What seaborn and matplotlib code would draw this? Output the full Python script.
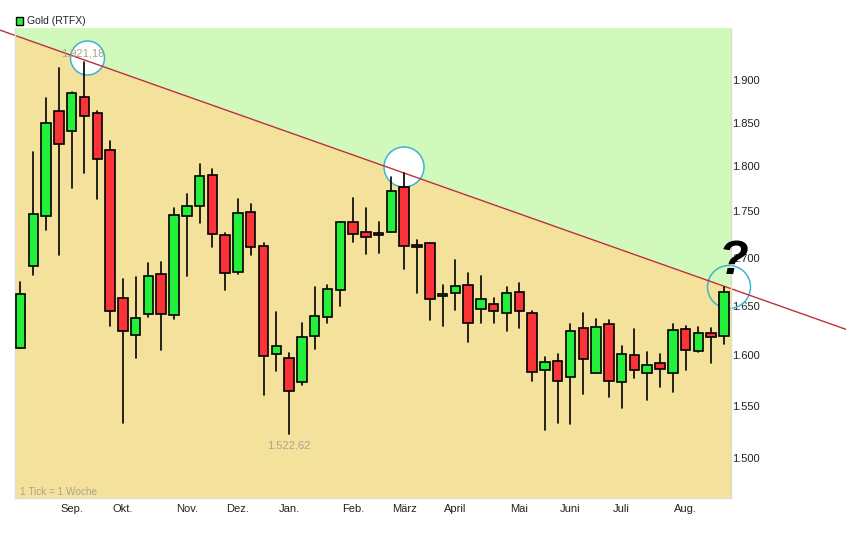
import matplotlib
matplotlib.use("Agg")
import matplotlib.pyplot as plt
import pandas as pd
import seaborn as sns
from matplotlib.patches import Ellipse, Rectangle
from matplotlib.ticker import FixedLocator, NullLocator

# weekly gold candles
opens = [1607, 1691, 1745, 1863, 1840, 1880, 1861, 1818, 1658, 1620, 1641, 1683, 1640, 1745,
         1756, 1790, 1724, 1685, 1749, 1713, 1601, 1597, 1573, 1619, 1638, 1666, 1738, 1728,
         1727, 1728, 1777, 1714, 1716, 1660, 1663, 1671, 1646, 1652, 1642, 1664, 1642, 1585,
         1594, 1578, 1627, 1582, 1631, 1573, 1600, 1582, 1592, 1582, 1626, 1604, 1622, 1619]
closes = [1662, 1747, 1849, 1825, 1884, 1858, 1808, 1644, 1624, 1637, 1681, 1641, 1746, 1756,
          1789, 1725, 1684, 1748, 1712, 1599, 1609, 1564, 1618, 1639, 1667, 1739, 1726, 1722,
          1724, 1773, 1713, 1712, 1657, 1662, 1670, 1632, 1657, 1644, 1663, 1644, 1583, 1593,
          1574, 1624, 1596, 1628, 1574, 1601, 1585, 1590, 1586, 1625, 1605, 1622, 1618, 1664]
highs = [1674, 1816, 1879, 1914, 1886, 1921.18, 1863, 1829, 1678, 1680, 1694, 1696, 1754, 1769,
         1803, 1797, 1727, 1764, 1758, 1716, 1643, 1602, 1632, 1669, 1671, 1739, 1765, 1754,
         1739, 1788, 1792, 1719, 1716, 1671, 1698, 1684, 1681, 1658, 1669, 1673, 1644, 1598,
         1601, 1631, 1642, 1636, 1635, 1609, 1626, 1603, 1601, 1631, 1629, 1628, 1627, 1669]
lows = [1607, 1682, 1730, 1703, 1776, 1792, 1764, 1629, 1533, 1597, 1638, 1605, 1636, 1681,
        1737, 1711, 1666, 1683, 1703, 1560, 1584, 1522.62, 1570, 1606, 1632, 1650, 1717, 1704,
        1705, 1728, 1688, 1663, 1635, 1629, 1645, 1613, 1632, 1632, 1624, 1627, 1574, 1527,
        1533, 1532, 1561, 1582, 1558, 1548, 1577, 1555, 1568, 1563, 1585, 1603, 1592, 1611]

month_weeks = [4, 8, 13, 17, 21, 26, 30, 34, 39, 43, 47, 52]
month_labels = ["Sep.", "Okt.", "Nov.", "Dez.", "Jan.", "Feb.", "März", "April", "Mai", "Juni", "Juli", "Aug."]
price_ticks = [1500, 1550, 1600, 1650, 1700, 1750, 1800, 1850, 1900]

trend_weeks = [-1.6, 64.55]
trend_prices = [1960, 1625.6]

WHEAT = "#F4E29C"
LIGHT_GREEN = "#D1F9BC"
GREEN = "#22F03A"
RED = "#F93338"
CIRCLE = "#3FB4CC"
GREY = "#A9A48F"

W, H = 846, 547


def fx(px):
    return px / W


def fy(px):
    return 1 - px / H


def add_circle(ax, x, y, r, filled=True):
    ax.add_patch(Ellipse((fx(x), fy(y)), 2 * r / W, 2 * r / H, transform=ax.figure.transFigure,
                         facecolor="white" if filled else "none", edgecolor=CIRCLE, linewidth=1.1,
                         clip_on=False, zorder=1.5))


sns.set_style("white")
plt.rcParams["font.family"] = ["Liberation Sans", "DejaVu Sans"]

df = pd.DataFrame({"week": range(len(opens)), "open": opens, "close": closes, "high": highs, "low": lows})
df["bottom"] = df[["open", "close"]].min(axis=1)
df["body"] = (df["close"] - df["open"]).abs()
df["up"] = df["close"] > df["open"]
wicks = df.melt(id_vars="week", value_vars=["high", "low"], value_name="price")

fig = plt.figure(figsize=(W / 100, H / 100), dpi=100)
ax = fig.add_axes([fx(15), fy(498), (731 - 15) / W, (498 - 28) / H])
ax.set_yscale("log")
ax.set_facecolor(WHEAT)
ymin, ymax = 1463, 1962.6

ax.fill_between(trend_weeks, trend_prices, ymax, color=LIGHT_GREEN, linewidth=0, zorder=1)

add_circle(ax, 87.5, 58, 17)
add_circle(ax, 404, 167, 20)
add_circle(ax, 729, 287, 21.5, filled=False)

ax.plot(trend_weeks, trend_prices, color="#BE303C", linewidth=1, clip_on=False, zorder=1.7)

sns.lineplot(data=wicks, x="week", y="price", units="week", estimator=None, color="black",
             linewidth=1.2, legend=False, ax=ax, zorder=2.5)

for is_up, color in [(True, GREEN), (False, RED)]:
    part = df[df["up"] == is_up]
    sns.barplot(data=part, x="week", y="body", bottom=part["bottom"].values, native_scale=True,
                errorbar=None, color=color, saturation=1, width=0.74, edgecolor="black",
                linewidth=1.2, ax=ax, zorder=3)

ax.set_xlim(-0.43, 55.55)
ax.set_ylim(ymin, ymax)
ax.set_xlabel("")
ax.set_ylabel("")

ax.yaxis.tick_right()
ax.yaxis.set_major_locator(FixedLocator(price_ticks))
ax.yaxis.set_minor_locator(NullLocator())
ax.set_yticklabels([f"{p / 1000:.3f}" for p in price_ticks])
ax.set_xticks(month_weeks)
ax.set_xticklabels(month_labels)
ax.tick_params(axis="x", labelsize=8, length=2, width=0.8, color="#D8D8D0", labelcolor="#222222", pad=2)
ax.tick_params(axis="y", labelsize=8, length=0, labelcolor="#222222", pad=1)

for side, spine in ax.spines.items():
    spine.set_visible(side in ("left", "bottom", "right"))
    spine.set_color("#DEDCCB")
    spine.set_linewidth(1)

ax.text(fx(83), fy(53), "1.921,18", transform=fig.transFigure, ha="center", va="center",
        fontsize=8, color=GREY, zorder=4)
ax.text(fx(289), fy(446), "1.522,62", transform=fig.transFigure, ha="center", va="center",
        fontsize=8, color=GREY, zorder=4)
ax.text(fx(20), fy(492), "1 Tick = 1 Woche", transform=fig.transFigure, ha="left", va="center",
        fontsize=7.2, color=GREY, zorder=4)
ax.text(fx(733), fy(262), "?", transform=fig.transFigure, ha="center", va="center",
        fontsize=35, fontweight="bold", fontstyle="italic", color="black", clip_on=False, zorder=5)

# legend entry above the plot
ax.add_patch(Rectangle((fx(15.5), fy(24.5)), 7.5 / W, 7.5 / H, transform=fig.transFigure, facecolor=GREEN,
                       edgecolor="black", linewidth=1, clip_on=False))
ax.text(fx(27), fy(21), "Gold (RTFX)", transform=fig.transFigure, ha="left", va="center",
        fontsize=7.5, color="#222222")

fig.savefig("out.png", dpi=100)
